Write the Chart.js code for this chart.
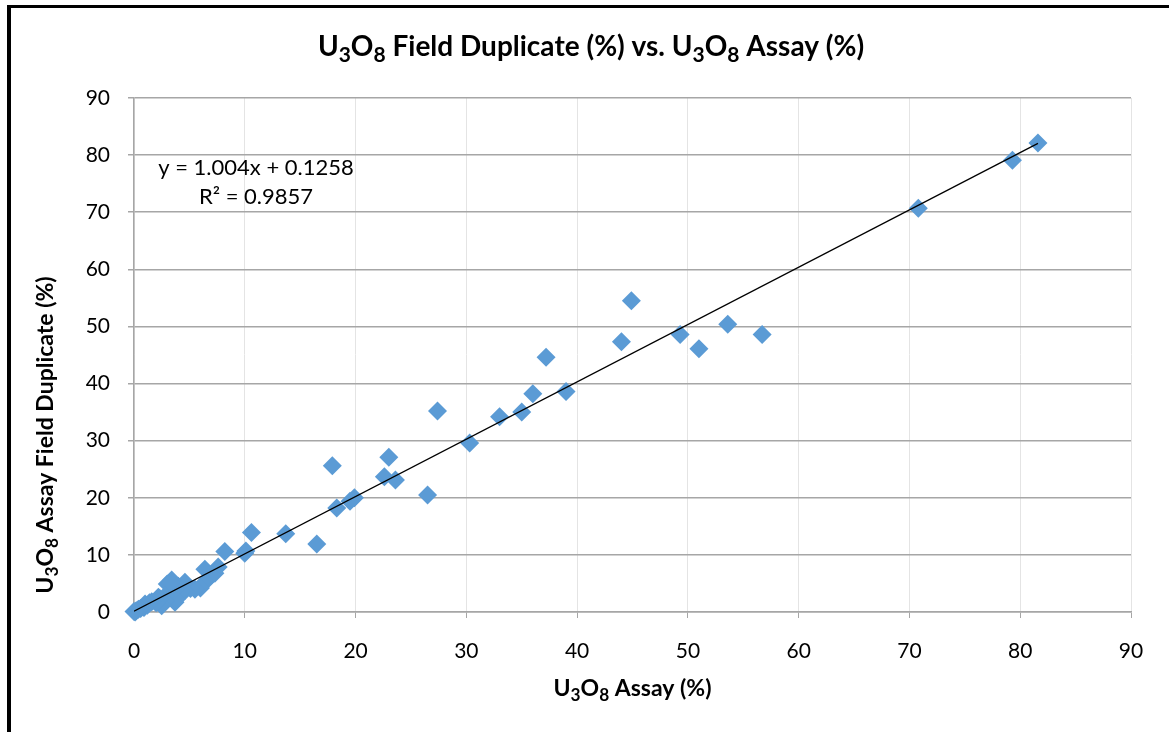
<!DOCTYPE html>
<html>
<head>
<meta charset="utf-8">
<script src="https://cdn.jsdelivr.net/npm/chart.js@4"></script>
<style>
  html, body { margin: 0; padding: 0; background: #fff; }
  #wrap { position: relative; width: 1169px; height: 732px; overflow: hidden; }
  #frame { position: absolute; left: 7px; top: 5px; width: 2000px; height: 2000px;
           border-top: 3px solid #000; border-left: 4px solid #000; pointer-events: none; }
</style>
</head>
<body>
<div id="wrap">
  <canvas id="dupChart" width="1169" height="732"></canvas>
  <div id="frame"></div>
</div>
<script>
// U3O8 assay vs field duplicate (%)
const assay = [
  81.6, 79.3, 70.8, 56.7, 53.6, 51.0, 49.3, 44.9, 44.0, 37.2,
  39.0, 36.0, 35.0, 33.0, 27.4, 30.3, 23.0, 23.6, 22.6, 17.9,
  26.5, 19.9, 19.5, 18.3, 16.5, 13.7, 10.6, 10.0, 10.1, 8.2,
  7.6, 7.3, 7.0, 6.4, 6.4, 6.0, 5.5, 5.1, 4.6, 4.6,
  4.4, 4.0, 3.7, 3.8, 3.4, 3.4, 3.0, 3.3, 2.8, 2.8,
  2.5, 2.3, 2.2, 2.0, 1.6, 1.4, 1.2, 1.0, 0.9, 0.6,
  0.4, 0.2, 0.1, 0.0
];
const duplicate = [
  82.1, 79.1, 70.7, 48.6, 50.4, 46.1, 48.6, 54.5, 47.3, 44.6,
  38.6, 38.2, 35.0, 34.2, 35.2, 29.6, 27.1, 23.1, 23.7, 25.6,
  20.5, 20.0, 19.4, 18.2, 11.9, 13.7, 13.9, 10.3, 10.7, 10.6,
  7.9, 6.8, 6.5, 7.5, 5.2, 4.2, 4.0, 4.1, 5.2, 3.7,
  3.8, 4.5, 1.7, 2.2, 3.5, 5.6, 4.9, 5.2, 2.8, 1.9,
  1.1, 2.4, 2.6, 1.6, 1.8, 1.6, 1.2, 1.4, 0.8, 0.6,
  0.5, 0.2, 0.0, 0.1
];
// linear trendline y = 1.004x + 0.1258, end points
const trendX = [0, 81.6];
const trendY = [0.126, 82.05];
const axisTicks = [0, 10, 20, 30, 40, 50, 60, 70, 80, 90];

const FONT = 'Lato, "Open Sans", sans-serif';

const points = assay.map((x, i) => ({ x: x, y: duplicate[i] }));
const trend = trendX.map((x, i) => ({ x: x, y: trendY[i] }));

// draw text with subscript pieces: parts = [[text, isSub], ...]
function drawParts(ctx, parts, x, y, size, bold) {
  const fontFor = p => (bold ? 'bold ' : '') + (p[1] ? size * 0.75 : size) + 'px ' + FONT;
  const w = parts.reduce((s, p) => {
    ctx.font = fontFor(p);
    return s + ctx.measureText(p[0]).width;
  }, 0);
  let cx = x - w / 2;
  ctx.textBaseline = 'alphabetic';
  ctx.textAlign = 'left';
  const base = y + size * 0.35;
  parts.forEach(p => {
    ctx.font = fontFor(p);
    ctx.fillText(p[0], cx, p[1] ? base + size * 0.22 : base);
    cx += ctx.measureText(p[0]).width;
  });
}

const labelsPlugin = {
  id: 'labels',
  afterDraw(chart) {
    const ctx = chart.ctx;
    const area = chart.chartArea;
    ctx.save();
    ctx.fillStyle = '#000';
    drawParts(ctx, [['U', 0], ['3', 1], ['O', 0], ['8', 1], [' Field Duplicate (%) vs. U', 0],
      ['3', 1], ['O', 0], ['8', 1], [' Assay (%)', 0]], 591, 46, 28, true);
    drawParts(ctx, [['U', 0], ['3', 1], ['O', 0], ['8', 1], [' Assay (%)', 0]],
      (area.left + area.right) / 2, 688, 23, true);
    ctx.translate(45, 435);
    ctx.rotate(-Math.PI / 2);
    drawParts(ctx, [['U', 0], ['3', 1], ['O', 0], ['8', 1], [' Assay Field Duplicate (%)', 0]],
      0, 0, 23, true);
    ctx.restore();

    ctx.save();
    ctx.fillStyle = '#000';
    ctx.font = '22px ' + FONT;
    ctx.textAlign = 'center';
    ctx.textBaseline = 'middle';
    ctx.fillText('y = 1.004x + 0.1258', 256, 168);
    ctx.fillText('R\u00b2 = 0.9857', 256, 197);
    ctx.restore();
  }
};

new Chart(document.getElementById('dupChart'), {
  type: 'scatter',
  data: {
    datasets: [{
      label: 'Trend',
      type: 'line',
      data: trend,
      borderColor: '#000',
      borderWidth: 1.3,
      pointRadius: 0,
      fill: false,
      order: 1
    }, {
      label: 'Duplicates',
      data: points,
      pointStyle: 'rectRot',
      pointRadius: 9.5,
      pointHoverRadius: 9.5,
      backgroundColor: '#5b9bd5',
      borderColor: '#5b9bd5',
      borderWidth: 0,
      clip: false,
      order: 2
    }]
  },
  options: {
    responsive: false,
    animation: false,
    layout: { padding: { left: 11, top: 98, right: 38, bottom: 0 } },
    plugins: {
      legend: { display: false },
      tooltip: { enabled: false },
      title: { display: false }
    },
    scales: {
      x: {
        type: 'linear',
        min: 0,
        max: 90,
        afterBuildTicks: s => { s.ticks = axisTicks.map(v => ({ value: v })); },
        afterFit: s => { s.height = 120; },
        ticks: { color: '#000', font: { family: FONT, size: 21 }, padding: 21 },
        grid: { color: '#e4e4e4', lineWidth: 1, tickColor: '#a6a6a6', tickLength: 6 },
        border: { color: '#a6a6a6', width: 1.5 }
      },
      y: {
        type: 'linear',
        min: 0,
        max: 90,
        afterBuildTicks: s => { s.ticks = axisTicks.map(v => ({ value: v })); },
        afterFit: s => { s.width = 123; },
        ticks: { color: '#000', font: { family: FONT, size: 21 }, padding: 18 },
        grid: { color: '#a6a6a6', lineWidth: 1.5, tickColor: '#a6a6a6', tickLength: 6 },
        border: { color: '#a6a6a6', width: 1.5 }
      }
    }
  },
  plugins: [labelsPlugin]
});
</script>
</body>
</html>
